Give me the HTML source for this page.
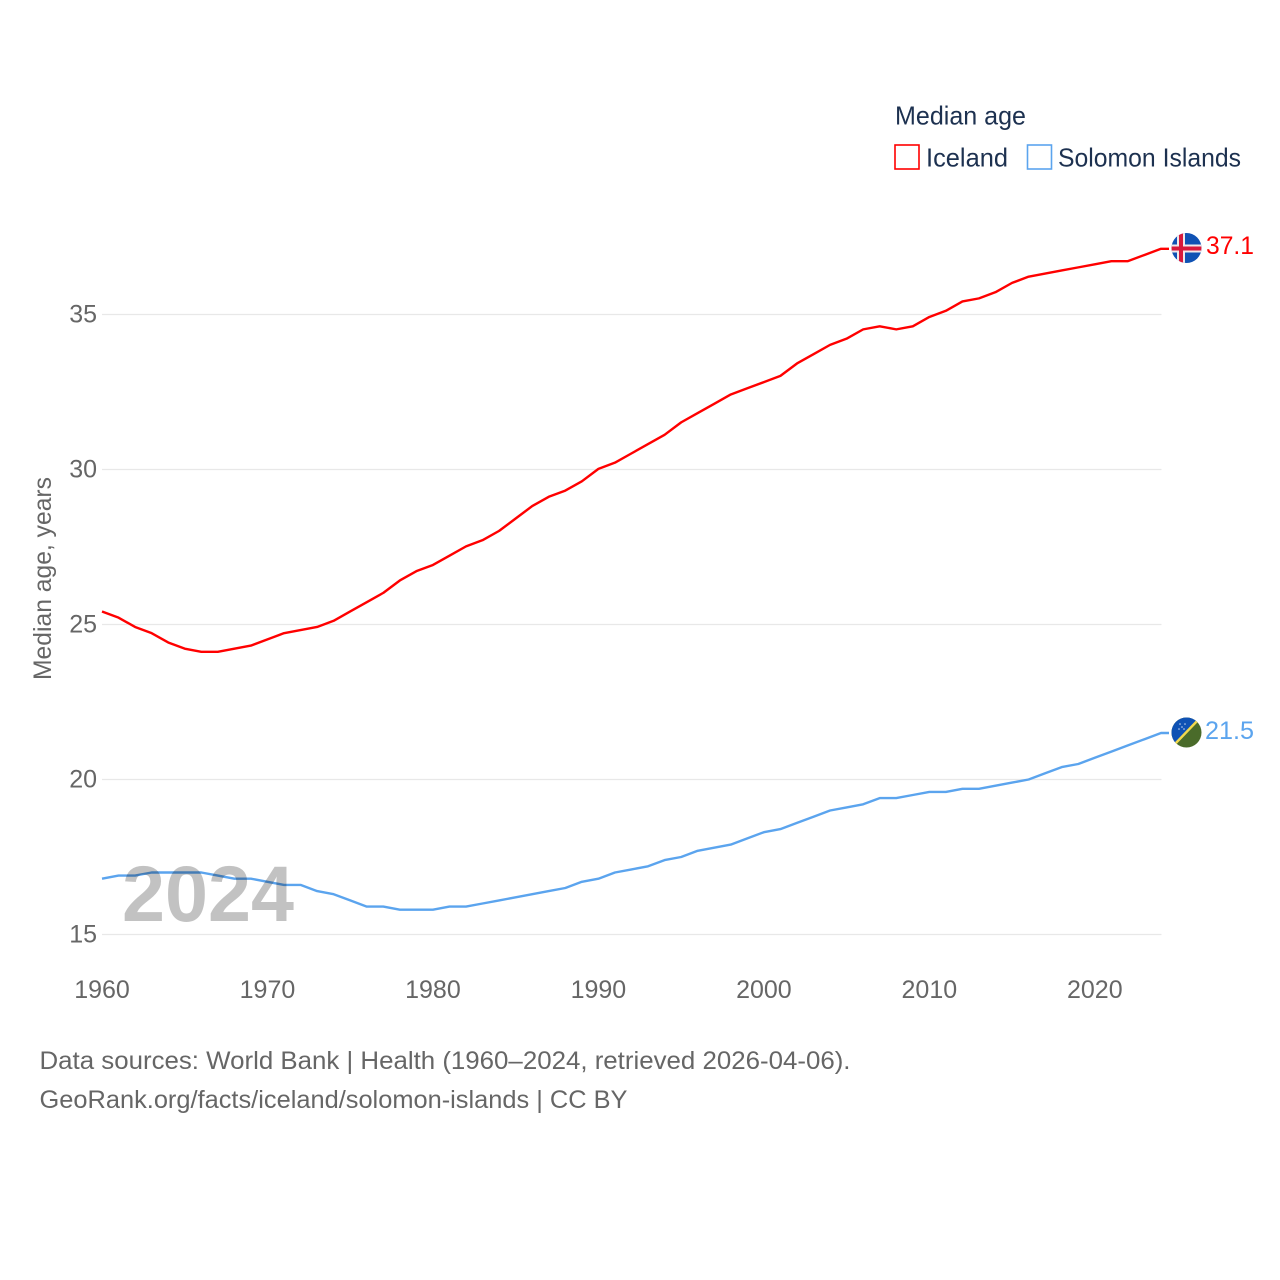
<!DOCTYPE html>
<html lang="en">
<head>
<meta charset="utf-8">
<title>Median age: Iceland and Solomon Islands</title>
<style>
html,body{margin:0;padding:0;background:#fff}
svg{display:block}
text{font-family:"Liberation Sans",sans-serif}
.tick{font-size:25px;fill:#666}
.src{font-size:25px;fill:#666}
.leg{font-size:26px;fill:#1d3150}
</style>
</head>
<body>
<svg id="chart" xmlns="http://www.w3.org/2000/svg" width="1280" height="1280" viewBox="0 0 1280 1280">
  <defs>
    <clipPath id="clip-is"><circle cx="1186.5" cy="248" r="15"/></clipPath>
    <clipPath id="clip-sb"><circle cx="1186.5" cy="732.5" r="15"/></clipPath>
  </defs>
  <g id="grid"></g>
  <g id="yticks"></g>
  <g id="xticks"></g>
  <text transform="translate(51,680) rotate(-90)" font-size="25" fill="#666" textLength="203" lengthAdjust="spacingAndGlyphs">Median age, years</text>
  <g id="series"></g>

  <text x="122" y="921" font-size="79" font-weight="700" fill="#000" fill-opacity="0.24" textLength="172" lengthAdjust="spacingAndGlyphs">2024</text>

  <g clip-path="url(#clip-is)">
    <rect x="1171" y="233" width="31" height="31" fill="#0f52b4"/>
    <rect x="1177" y="233" width="8" height="31" fill="#f0e8ea"/>
    <rect x="1171" y="244.5" width="31" height="8" fill="#f0e8ea"/>
    <rect x="1179" y="233" width="4" height="31" fill="#d7193c"/>
    <rect x="1171" y="246.5" width="31" height="4" fill="#d7193c"/>
  </g>
  <text x="1206" y="254" font-size="25" fill="#ff0000" textLength="48" lengthAdjust="spacingAndGlyphs">37.1</text>

  <g clip-path="url(#clip-sb)">
    <rect x="1171" y="717" width="31" height="31" fill="#4a6b2a"/>
    <polygon points="1171,717 1201,717 1171,748" fill="#0f52b4"/>
    <line x1="1173" y1="746" x2="1199" y2="719" stroke="#f2d94e" stroke-width="2.4"/>
    <circle cx="1180" cy="724" r="0.8" fill="#c8d6ee"/>
    <circle cx="1185" cy="724" r="0.8" fill="#c8d6ee"/>
    <circle cx="1182" cy="727" r="0.8" fill="#c8d6ee"/>
    <circle cx="1179" cy="729" r="0.8" fill="#c8d6ee"/>
    <circle cx="1184" cy="729" r="0.8" fill="#c8d6ee"/>
  </g>
  <text x="1205" y="739" font-size="25" fill="#5ba4ee" textLength="49" lengthAdjust="spacingAndGlyphs">21.5</text>

  <text class="leg" x="895" y="124.5" textLength="131" lengthAdjust="spacingAndGlyphs">Median age</text>
  <rect x="895" y="145" width="24" height="24" fill="none" stroke="#ff0000" stroke-width="1.6"/>
  <text class="leg" x="926" y="166.5" textLength="82" lengthAdjust="spacingAndGlyphs">Iceland</text>
  <rect x="1027.5" y="145" width="24" height="24" fill="none" stroke="#5ba4ee" stroke-width="1.6"/>
  <text class="leg" x="1058" y="166.5" textLength="183" lengthAdjust="spacingAndGlyphs">Solomon Islands</text>

  <text class="src" x="39.5" y="1069" textLength="811" lengthAdjust="spacingAndGlyphs">Data sources: World Bank | Health (1960–2024, retrieved 2026-04-06).</text>
  <text class="src" x="39.5" y="1108" textLength="588" lengthAdjust="spacingAndGlyphs">GeoRank.org/facts/iceland/solomon-islands | CC BY</text>
</svg>
<script>
const startYear = 1960;
const iceland = [25.42,25.22,24.92,24.72,24.42,24.22,24.12,24.12,24.22,24.32,24.52,24.72,24.82,24.92,25.12,25.42,25.72,26.02,26.42,26.72,26.92,27.22,27.52,27.72,28.02,28.42,28.82,29.12,29.32,29.62,30.02,30.22,30.52,30.82,31.12,31.52,31.82,32.12,32.42,32.62,32.82,33.02,33.42,33.72,34.02,34.22,34.52,34.62,34.52,34.62,34.92,35.12,35.42,35.52,35.72,36.02,36.22,36.32,36.42,36.52,36.62,36.72,36.72,36.92,37.12];
const solomonIslands = [16.8,16.9,16.9,17.0,17.0,17.0,17.0,16.9,16.8,16.8,16.7,16.6,16.6,16.4,16.3,16.1,15.9,15.9,15.8,15.8,15.8,15.9,15.9,16.0,16.1,16.2,16.3,16.4,16.5,16.7,16.8,17.0,17.1,17.2,17.4,17.5,17.7,17.8,17.9,18.1,18.3,18.4,18.6,18.8,19.0,19.1,19.2,19.4,19.4,19.5,19.6,19.6,19.7,19.7,19.8,19.9,20.0,20.2,20.4,20.5,20.7,20.9,21.1,21.3,21.5];
const yTickValues = [15,20,25,30,35];
const xTickValues = [1960,1970,1980,1990,2000,2010,2020];

const NS = 'http://www.w3.org/2000/svg';
function xScale(year){ return 102 + (year - 1960) * (1161 - 102) / 64; }
function yScale(v){ return 934.5 - (v - 15) * 31; }
function make(tag, parent){
  const el = document.createElementNS(NS, tag);
  parent.appendChild(el);
  return el;
}

const grid = document.getElementById('grid');
const yticks = document.getElementById('yticks');
const xticks = document.getElementById('xticks');
const seriesGroup = document.getElementById('series');

yTickValues.forEach(function(v){
  const line = make('line', grid);
  
  
  line.setAttribute('x1', 102);
  line.setAttribute('x2', 1161.5);
  line.setAttribute('y1', yScale(v));
  line.setAttribute('y2', yScale(v));
  line.setAttribute('stroke', '#e8e8e8');
  line.setAttribute('stroke-width', '1.3');
  const t = make('text', yticks);
  
  
  t.setAttribute('class', 'tick');
  t.setAttribute('x', 97);
  t.setAttribute('y', yScale(v) + 8);
  t.setAttribute('text-anchor', 'end');
  t.textContent = v;
});

xTickValues.forEach(function(y){
  const t = make('text', xticks);
  
  
  t.setAttribute('class', 'tick');
  t.setAttribute('x', xScale(y));
  t.setAttribute('y', 998);
  t.setAttribute('text-anchor', 'middle');
  t.textContent = y;
});

function drawSeries(values, color, name){
  const pts = values.map(function(v, i){
    return xScale(startYear + i).toFixed(2) + ',' + yScale(v).toFixed(2);
  });
  const last = values[values.length - 1];
  pts.push('1169,' + yScale(last).toFixed(2));
  const line = make('polyline', seriesGroup);
  
  
  line.setAttribute('points', pts.join(' '));
  line.setAttribute('fill', 'none');
  line.setAttribute('stroke', color);
  line.setAttribute('stroke-width', '2.4');
  line.setAttribute('stroke-linejoin', 'round');
}
drawSeries(iceland, '#ff0000', 'iceland-line');
drawSeries(solomonIslands, '#5ba4ee', 'solomon-islands-line');
</script>
</body>
</html>
